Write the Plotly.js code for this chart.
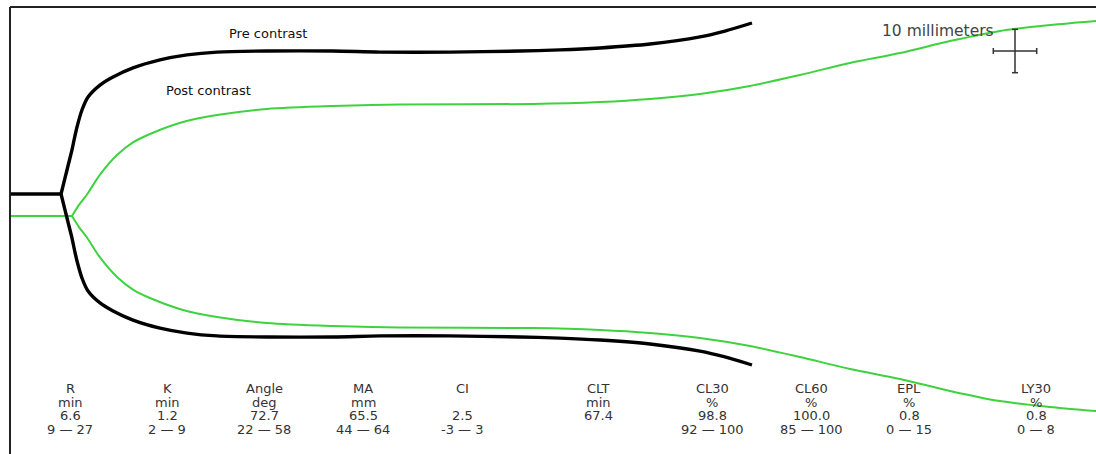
<!DOCTYPE html>
<html>
<head>
<meta charset="utf-8">
<script src="https://cdn.plot.ly/plotly-3.0.1.min.js"></script>
<style>
  html, body { margin: 0; padding: 0; background: #ffffff; }
  #chart { width: 1096px; height: 454px; }
</style>
</head>
<body>
<div id="chart"></div>
<script>
// ---- Data (time in minutes, amplitude in millimetres) ----
const preTime = [0, 5.88, 6.34, 6.68, 7.14, 7.43, 7.72, 8.29, 8.99, 10.37, 11.87, 14.17, 17.28, 20.39, 23.85, 29.61, 37.21, 42.63, 50.69, 58.76, 63.36, 67.97, 73.73, 79.49, 82.37, 85.48];
const preAmp  = [0, 0, 7.4, 12.9, 20.3, 25.8, 30.9, 38.7, 44.7, 50.2, 53.9, 58.1, 61.8, 64.1, 65.4, 65.9, 65.9, 65.4, 65.4, 65.9, 66.4, 67.3, 69.1, 72.4, 75.1, 78.8];
const preBaseline = 0;

const postTime = [0, 7.14, 7.95, 8.87, 10.37, 12.33, 14.17, 16.13, 19.93, 23.85, 29.61, 37.21, 44.93, 60.25, 67.97, 73.73, 79.49, 85.25, 91.01, 96.77, 102.53, 108.29, 114.06, 119.82, 125.2];
const postAmp  = [0, 0, 5.1, 9.9, 19.1, 28.1, 33.9, 37.8, 43.3, 46.5, 49.3, 50.7, 51.4, 51.6, 52.5, 53.9, 56.2, 59.9, 65.0, 70.5, 75.1, 80.6, 85.3, 88.0, 89.9];
const postBaseline = -5.07;

const traceLabels = ["Pre contrast", "Post contrast"];
const scaleLabel = "10 millimeters";
const scaleMM = 10;           // scale bar size in mm
const scaleMin = 5;           // 10 mm of chart = 5 min at 2 mm/min

const paramNames  = ["R", "K", "Angle", "MA", "CI", "CLT", "CL30", "CL60", "EPL", "LY30"];
const paramUnits  = ["min", "min", "deg", "mm", "", "min", "%", "%", "%", "%"];
const paramValues = ["6.6", "1.2", "72.7", "65.5", "2.5", "67.4", "98.8", "100.0", "0.8", "0.8"];
const paramRanges = ["9 \u2014 27", "2 \u2014 9", "22 \u2014 58", "44 \u2014 64", "-3 \u2014 3", "", "92 \u2014 100", "85 \u2014 100", "0 \u2014 15", "0 \u2014 8"];

// ---- Layout geometry (pixels) ----
const W = 1096, H = 454;
const mL = 10, mT = 7;
const plotW = W - mL, plotH = H - mT;
const pxPerMin = 8.68, pxPerMM = 4.34;
const xMax = plotW / pxPerMin;
const yTop = (194 - mT) / pxPerMM;
const yBot = -(H - 194) / pxPerMM;

// split each tracing into its flat baseline (before clotting starts) and the diverging part
function split(time, amp) {
  let k = 0;
  while (k + 1 < amp.length && amp[k + 1] === 0) k++;
  return {flatT: time.slice(0, k + 1), flatA: amp.slice(0, k + 1), curveT: time.slice(k), curveA: amp.slice(k)};
}
function makeTraces(time, amp, base, color, width) {
  const s = split(time, amp);
  const out = [];
  out.push({x: s.flatT, y: s.flatA.map(a => base + a / 2), mode: "lines", line: {color: color, width: width}, hoverinfo: "skip"});
  [1, -1].forEach(sgn => {
    out.push({x: s.curveT, y: s.curveA.map(a => base + sgn * a / 2), mode: "lines",
      line: {color: color, width: width, shape: "spline", smoothing: 0.8}, hoverinfo: "skip"});
  });
  return out;
}

const black = "#000000", green = "#3fd23f";
const traces = [].concat(
  makeTraces(postTime, postAmp, postBaseline, green, 2),
  makeTraces(preTime, preAmp, preBaseline, black, 3.4)
);

// pixel helpers -> paper coords
const px = v => (v - mL) / plotW;
const py = v => (H - v) / plotH;

const annotations = [];
const tableFont = {family: "DejaVu Sans, Verdana, sans-serif", size: 13, color: "#333333"};
const colX = [70, 167, 264, 363, 462, 598, 712, 811, 909, 1036];
const rowY = [388, 402, 415.5, 429];
const rows = [paramNames, paramUnits, paramValues, paramRanges];
rows.forEach((row, r) => {
  row.forEach((txt, c) => {
    if (!txt) return;
    annotations.push({xref: "paper", yref: "paper", x: px(colX[c]), y: py(rowY[r]),
      text: txt, showarrow: false, xanchor: "center", yanchor: "middle", font: tableFont});
  });
});
annotations.push({xref: "paper", yref: "paper", x: px(268), y: py(33), text: traceLabels[0],
  showarrow: false, xanchor: "center", yanchor: "middle",
  font: {family: "DejaVu Sans, sans-serif", size: 13, color: "#111111"}});
annotations.push({xref: "paper", yref: "paper", x: px(208), y: py(91), text: traceLabels[1],
  showarrow: false, xanchor: "center", yanchor: "middle",
  font: {family: "DejaVu Sans, sans-serif", size: 13, color: "#111111"}});
annotations.push({xref: "paper", yref: "paper", x: px(938), y: py(31), text: scaleLabel,
  showarrow: false, xanchor: "center", yanchor: "middle",
  font: {family: "DejaVu Sans, sans-serif", size: 15.5, color: "#444444"}});

// scale crosshair in data coordinates
const cx = (1015 - mL) / pxPerMin, cy = (194 - 51) / pxPerMM;
const capX = 0.35, capY = 0.7;
const sc = {color: "#333333", width: 1.5};
const shapes = [
  {type: "line", xref: "paper", yref: "paper", x0: 0, x1: 1, y0: 1, y1: 1, line: {color: "#222222", width: 2}},
  {type: "line", xref: "paper", yref: "paper", x0: 0, x1: 0, y0: 0, y1: 1, line: {color: "#222222", width: 2}},
  {type: "line", x0: cx, x1: cx, y0: cy - scaleMM / 2, y1: cy + scaleMM / 2, line: sc},
  {type: "line", x0: cx - capX, x1: cx + capX, y0: cy + scaleMM / 2, y1: cy + scaleMM / 2, line: sc},
  {type: "line", x0: cx - capX, x1: cx + capX, y0: cy - scaleMM / 2, y1: cy - scaleMM / 2, line: sc},
  {type: "line", x0: cx - scaleMin / 2, x1: cx + scaleMin / 2, y0: cy, y1: cy, line: sc},
  {type: "line", x0: cx - scaleMin / 2, x1: cx - scaleMin / 2, y0: cy - capY, y1: cy + capY, line: sc},
  {type: "line", x0: cx + scaleMin / 2, x1: cx + scaleMin / 2, y0: cy - capY, y1: cy + capY, line: sc}
];

const layout = {
  width: W, height: H,
  margin: {l: mL, r: 0, t: mT, b: 0, pad: 0},
  paper_bgcolor: "#ffffff", plot_bgcolor: "#ffffff",
  showlegend: false,
  xaxis: {range: [0, xMax], visible: false, fixedrange: true},
  yaxis: {range: [yBot, yTop], visible: false, fixedrange: true},
  annotations: annotations,
  shapes: shapes
};

Plotly.newPlot("chart", traces, layout, {displayModeBar: false, staticPlot: true});
</script>
</body>
</html>
